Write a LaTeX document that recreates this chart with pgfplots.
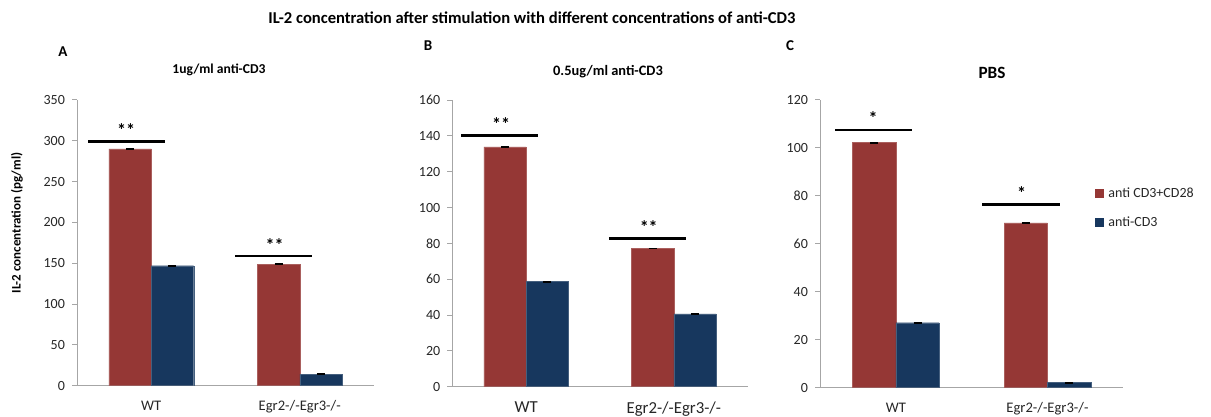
\documentclass[border=0pt]{standalone}
\usepackage{fontspec}
\setmainfont{Carlito}
\usepackage{pgfplots}
\pgfplotsset{compat=1.18}

\definecolor{barred}{HTML}{953735}
\definecolor{barblue}{HTML}{17375E}
\definecolor{axgray}{HTML}{A6A6A6}
\definecolor{txt}{HTML}{262626}

% common look of the three panels (1px of the reference = 0.5pt)
\pgfplotsset{
  panel/.style={
    scale only axis,
    anchor=south west,
    axis lines*=left,
    axis line style={axgray, line width=0.5pt},
    ybar=0pt,
    bar width=0.286,
    xmin=-0.5, xmax=1.5,
    ymin=0,
    xtick={0,1},
    xticklabels={WT, Egr2-/-Egr3-/-},
    x tick style={draw=none},
    extra x ticks={-0.5,0.5,1.5},
    extra x tick labels={},
    extra x tick style={tick style={draw=axgray, line width=0.5pt}, major tick length=3pt},
    y tick style={draw=axgray, line width=0.5pt},
    major tick length=2.5pt,
    tick align=outside,
    tick label style={font=\fontsize{7}{8}\selectfont, text=txt},
    xticklabel style={yshift=-1.5pt, font=\fontsize{7.3}{8}\selectfont},
    /pgf/number format/assume math mode=true,
    error bars/y dir=both, error bars/y explicit,
    error bars/error bar style={black, line width=0.3pt},
    error bars/error mark options={rotate=90, mark size=2pt, line width=0.3pt},
  },
  redbar/.style={fill=barred, draw=barred!80!white, line width=0.2pt},
  bluebar/.style={fill=barblue, draw=barblue!80!white, line width=0.2pt},
}

\begin{document}
\begin{tikzpicture}
\useasboundingbox (0,0) rectangle (605.5pt,-208.5pt);

% main title and panel letters
\node[font=\bfseries\fontsize{8.3}{10}\selectfont] at (266pt,-9pt)
  {IL-2 concentration after stimulation with different concentrations of anti-CD3};
\node[font=\bfseries\fontsize{7.5}{9}\selectfont] at (31.5pt,-26pt) {A};
\node[font=\bfseries\fontsize{7.5}{9}\selectfont] at (214pt,-23pt) {B};
\node[font=\bfseries\fontsize{7.5}{9}\selectfont] at (395pt,-23pt) {C};

% panel titles
\node[font=\bfseries\fontsize{6.8}{8}\selectfont] at (109.5pt,-35pt) {1ug/ml anti-CD3};
\node[font=\bfseries\fontsize{7.2}{8}\selectfont] at (304pt,-36pt) {0.5ug/ml anti-CD3};
\node[font=\bfseries\fontsize{8.6}{10}\selectfont] at (496pt,-36.3pt) {PBS};

% shared y label
\node[font=\bfseries\fontsize{6.5}{8}\selectfont, rotate=90] at (8.5pt,-111.5pt)
  {IL-2 concentration (pg/ml)};

% ---------- A: 1ug/ml anti-CD3 ----------
\begin{axis}[panel,
  at={(38.5pt,-192.85pt)},
  width=148.5pt, height=142.85pt,
  ymax=350, ytick={0,50,...,350}]
\addplot[redbar] coordinates {(0,290) +- (0,0.5) (1,149) +- (0,0.5)};
\addplot[bluebar] coordinates {(0,147) +- (0,0.5) (1,14.3) +- (0,0.5)};
\draw[line width=1.3pt] (axis cs:-0.425,299.5) -- (axis cs:0.09,299.5);
\node[font=\bfseries\fontsize{9}{9}\selectfont] at (axis cs:-0.17,313) {**};
\draw[line width=1.3pt] (axis cs:0.565,159) -- (axis cs:1.085,159);
\node[font=\bfseries\fontsize{9}{9}\selectfont] at (axis cs:0.83,172) {**};
\end{axis}

% ---------- B: 0.5ug/ml anti-CD3 ----------
\begin{axis}[panel,
  at={(226.15pt,-193.35pt)},
  width=147.7pt, height=143.35pt,
  ymax=160, ytick={0,20,...,160},
  xticklabel style={font=\fontsize{8.4}{9}\selectfont}]
\addplot[redbar] coordinates {(0,133.8) +- (0,0.2) (1,77.2) +- (0,0.2)};
\addplot[bluebar] coordinates {(0,58.6) +- (0,0.2) (1,40.6) +- (0,0.2)};
\draw[line width=1.3pt] (axis cs:-0.44,140.3) -- (axis cs:0.08,140.3);
\node[font=\bfseries\fontsize{9}{9}\selectfont] at (axis cs:-0.17,146.5) {**};
\draw[line width=1.3pt] (axis cs:0.56,82.8) -- (axis cs:1.08,82.8);
\node[font=\bfseries\fontsize{9}{9}\selectfont] at (axis cs:0.83,89) {**};
\end{axis}

% ---------- C: PBS ----------
\begin{axis}[panel,
  at={(410pt,-193.85pt)},
  width=151.65pt, height=143.85pt,
  ymax=120, ytick={0,20,...,120}]
\addplot[redbar] coordinates {(0,102.2) +- (0,0.15) (1,68.7) +- (0,0.15)};
\addplot[bluebar] coordinates {(0,27.1) +- (0,0.15) (1,2.1) +- (0,0.15)};
\draw[line width=1.3pt] (axis cs:-0.4,107.5) -- (axis cs:0.105,107.5);
\node[font=\bfseries\fontsize{9}{9}\selectfont] at (axis cs:-0.15,112.3) {*};
\draw[line width=1.3pt] (axis cs:0.57,76.5) -- (axis cs:1.08,76.5);
\node[font=\bfseries\fontsize{9}{9}\selectfont] at (axis cs:0.83,81.3) {*};
\end{axis}

% legend of panel C
\fill[barred] (547.5pt,-94.5pt) rectangle (552pt,-99pt);
\node[anchor=west, inner sep=0pt, font=\fontsize{7}{8}\selectfont, text=txt] at (554pt,-96.5pt) {anti CD3+CD28};
\fill[barblue] (547.5pt,-108.8pt) rectangle (552pt,-113.3pt);
\node[anchor=west, inner sep=0pt, font=\fontsize{7}{8}\selectfont, text=txt] at (554pt,-110.8pt) {anti-CD3};
\end{tikzpicture}
\end{document}
